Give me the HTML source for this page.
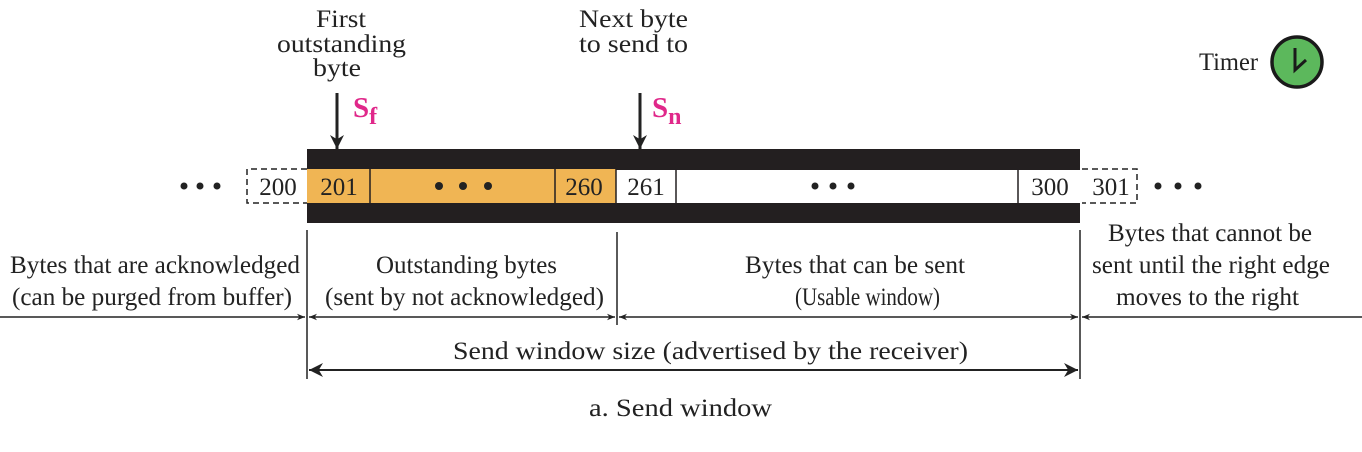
<!DOCTYPE html>
<html><head><style>body{margin:0;background:#fff}svg{display:block}text{font-family:"Liberation Serif",serif;fill:#222}</style></head>
<body>
<svg width="1362" height="452" viewBox="0 0 1362 452" xmlns="http://www.w3.org/2000/svg">
<defs>
<marker id="a" viewBox="0 0 10 10" refX="10" refY="5" markerWidth="8" markerHeight="8" orient="auto-start-reverse" markerUnits="userSpaceOnUse"><path d="M0,1 L10,5 L0,9 L3,5z" fill="#222"/></marker>
<marker id="b" viewBox="0 0 10 10" refX="10" refY="5" markerWidth="14" markerHeight="14" orient="auto-start-reverse" markerUnits="userSpaceOnUse"><path d="M0,0 L10,5 L0,10 L3,5z" fill="#222"/></marker>
</defs>
<g font-size="25">
<text x="316" y="27" textLength="50" lengthAdjust="spacingAndGlyphs">First</text>
<text x="277" y="52" textLength="129" lengthAdjust="spacingAndGlyphs">outstanding</text>
<text x="313" y="76" textLength="48" lengthAdjust="spacingAndGlyphs">byte</text>
<text x="579" y="27" textLength="109" lengthAdjust="spacingAndGlyphs">Next byte</text>
<text x="579" y="52" textLength="109" lengthAdjust="spacingAndGlyphs">to send to</text>
<text x="1199" y="70" textLength="59" lengthAdjust="spacingAndGlyphs">Timer</text>
</g>
<circle cx="1297" cy="62" r="25" fill="#5cb85c" stroke="#1a1a1a" stroke-width="3.5"/>
<path d="M1295,48 L1295,70 L1306,60" fill="none" stroke="#1a1a1a" stroke-width="3"/>
<line x1="337" y1="93" x2="337" y2="149" stroke="#222" stroke-width="3" marker-end="url(#b)"/>
<line x1="640" y1="93" x2="640" y2="149" stroke="#222" stroke-width="3" marker-end="url(#b)"/>
<text x="353" y="117" font-size="29" font-weight="bold" style="fill:#e0288a">S<tspan font-size="24" dy="7">f</tspan></text>
<text x="652" y="117" font-size="29" font-weight="bold" style="fill:#e0288a">S<tspan font-size="24" dy="7">n</tspan></text>
<rect x="307" y="149" width="773" height="21" fill="#231f20"/>
<rect x="307" y="203" width="773" height="20" fill="#231f20"/>
<rect x="307" y="169" width="309" height="34" fill="#f0b554"/>
<g stroke="#231f20" stroke-width="1.5">
<line x1="370" y1="169" x2="370" y2="203"/><line x1="555" y1="169" x2="555" y2="203"/><line x1="616" y1="169" x2="616" y2="203"/><line x1="676" y1="169" x2="676" y2="203"/><line x1="1018" y1="169" x2="1018" y2="203"/>
</g>
<g fill="none" stroke="#222" stroke-width="1.5" stroke-dasharray="6,4">
<path d="M307,169 H247 V203 H307"/><path d="M1082,169 H1137 V203 H1082"/>
</g>
<g font-size="25" text-anchor="middle">
<text x="278" y="195">200</text><text x="339" y="195">201</text><text x="584" y="195">260</text><text x="646" y="195">261</text><text x="1050" y="195">300</text><text x="1111" y="195">301</text>
</g>
<g fill="#222">
<circle cx="184" cy="186" r="3.5"/><circle cx="200" cy="186" r="3.5"/><circle cx="217" cy="186" r="3.5"/>
<circle cx="439" cy="186" r="4"/><circle cx="463" cy="186" r="4"/><circle cx="488" cy="186" r="4"/>
<circle cx="815" cy="186" r="3.5"/><circle cx="833" cy="186" r="3.5"/><circle cx="851" cy="186" r="3.5"/>
<circle cx="1158" cy="186" r="3.5"/><circle cx="1178" cy="186" r="3.5"/><circle cx="1198" cy="186" r="3.5"/>
</g>
<g stroke="#222" stroke-width="1.5">
<line x1="307" y1="230" x2="307" y2="379"/><line x1="617" y1="232" x2="617" y2="325"/><line x1="1080" y1="230" x2="1080" y2="379"/>
<line x1="0" y1="317" x2="305" y2="317" marker-end="url(#a)"/>
<line x1="309" y1="317" x2="615" y2="317" marker-start="url(#a)" marker-end="url(#a)"/>
<line x1="619" y1="317" x2="1078" y2="317" marker-start="url(#a)" marker-end="url(#a)"/>
<line x1="1082" y1="317" x2="1362" y2="317" marker-start="url(#a)"/>
<line x1="309" y1="370" x2="1078" y2="370" stroke-width="2" marker-start="url(#b)" marker-end="url(#b)"/>
</g>
<g font-size="25">
<text x="10" y="273" textLength="290" lengthAdjust="spacingAndGlyphs">Bytes that are acknowledged</text>
<text x="12" y="305" textLength="280" lengthAdjust="spacingAndGlyphs">(can be purged from buffer)</text>
<text x="376" y="273" textLength="181" lengthAdjust="spacingAndGlyphs">Outstanding bytes</text>
<text x="325" y="305" textLength="279" lengthAdjust="spacingAndGlyphs">(sent by not acknowledged)</text>
<text x="745" y="273" textLength="220" lengthAdjust="spacingAndGlyphs">Bytes that can be sent</text>
<text x="795" y="305" textLength="145" lengthAdjust="spacingAndGlyphs">(Usable window)</text>
<text x="1108" y="241" textLength="204" lengthAdjust="spacingAndGlyphs">Bytes that cannot be</text>
<text x="1092" y="273" textLength="238" lengthAdjust="spacingAndGlyphs">sent until the right edge</text>
<text x="1116" y="305" textLength="183" lengthAdjust="spacingAndGlyphs">moves to the right</text>
<text x="453" y="359" textLength="515" lengthAdjust="spacingAndGlyphs">Send window size (advertised by the receiver)</text>
<text x="589" y="416" textLength="183" lengthAdjust="spacingAndGlyphs">a. Send window</text>
</g>
</svg>
</body></html>
